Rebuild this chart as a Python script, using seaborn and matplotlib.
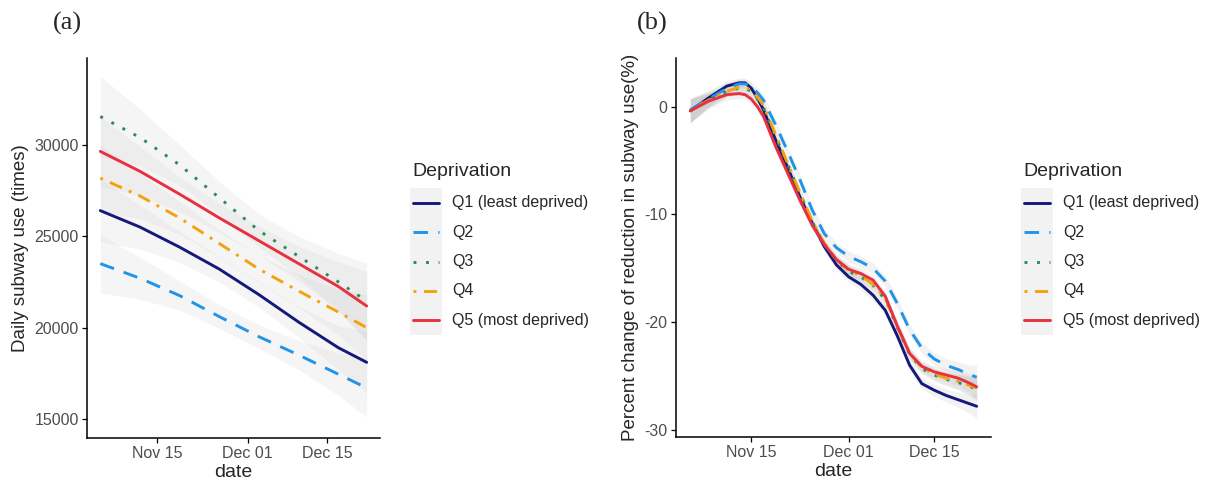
import pandas as pd
import numpy as np
import matplotlib
matplotlib.use('Agg')
import matplotlib.pyplot as plt
import matplotlib.dates as mdates
from matplotlib.lines import Line2D
from matplotlib.patches import Rectangle
import seaborn as sns

W, H = 1213, 483

groups = ['Q1', 'Q2', 'Q3', 'Q4', 'Q5']
group_labels = ['Q1 (least deprived)', 'Q2', 'Q3', 'Q4', 'Q5 (most deprived)']
colors = {'Q1': '#14197a', 'Q2': '#1f94ea', 'Q3': '#2e8b57', 'Q4': '#f2a20c', 'Q5': '#e8303f'}
dashes = {'Q1': '', 'Q2': (5.0, 3.5), 'Q3': (1.0, 3.3), 'Q4': (1.0, 2.6, 4.5, 2.6), 'Q5': ''}

# panel (a): daily subway use
dates_a = ['2020-11-05', '2020-11-12', '2020-11-19', '2020-11-26',
           '2020-12-03', '2020-12-10', '2020-12-17', '2020-12-22']
use_q1 = [26400, 25500, 24400, 23200, 21800, 20300, 18900, 18100]
use_q2 = [23500, 22700, 21750, 20600, 19500, 18500, 17450, 16700]
use_q3 = [31550, 30400, 28900, 27100, 25300, 23900, 22500, 21450]
use_q4 = [28180, 27200, 26000, 24600, 23200, 22000, 20850, 20000]
use_q5 = [29640, 28550, 27300, 26000, 24750, 23500, 22250, 21180]
band_q1 = [1700, 1200, 850, 700, 700, 850, 1200, 1700]
band_q2 = [1600, 1150, 800, 650, 650, 800, 1150, 1600]
band_q3 = [2200, 1550, 1100, 900, 900, 1100, 1550, 2100]
band_q4 = [1800, 1250, 900, 750, 750, 900, 1250, 1800]
band_q5 = [1900, 1350, 950, 800, 800, 950, 1350, 1900]

# panel (b): percent change
dates_b = ['2020-11-05', '2020-11-08', '2020-11-11', '2020-11-13', '2020-11-14',
           '2020-11-15', '2020-11-16', '2020-11-17', '2020-11-19', '2020-11-21',
           '2020-11-23', '2020-11-25', '2020-11-27', '2020-11-29', '2020-12-01',
           '2020-12-03', '2020-12-05', '2020-12-07', '2020-12-09', '2020-12-11',
           '2020-12-13', '2020-12-15', '2020-12-17', '2020-12-19', '2020-12-21',
           '2020-12-22']
pct_q1 = [-0.4, 0.8, 1.9, 2.2, 2.2, 1.7, 0.8, -0.3, -3.1, -5.7, -8.4, -10.8, -13.0,
          -14.7, -15.8, -16.5, -17.5, -18.9, -21.3, -24.0, -25.7, -26.3, -26.8, -27.2,
          -27.6, -27.8]
pct_q2 = [-0.3, 0.7, 1.7, 2.1, 2.1, 1.9, 1.3, 0.6, -1.7, -4.2, -6.8, -9.6, -11.8,
          -13.1, -13.9, -14.4, -15.0, -16.2, -18.3, -20.7, -22.4, -23.4, -24.0, -24.4,
          -24.9, -25.1]
pct_q3 = [-0.4, 0.6, 1.4, 1.7, 1.7, 1.4, 0.7, -0.1, -2.8, -5.4, -8.1, -10.7, -12.8,
          -14.3, -15.3, -15.8, -16.6, -17.9, -20.5, -23.0, -24.3, -24.9, -25.3, -25.6,
          -26.0, -26.2]
pct_q4 = [-0.4, 0.6, 1.4, 1.8, 1.8, 1.5, 0.9, 0.1, -2.6, -5.3, -8.0, -10.6, -12.7,
          -14.2, -15.2, -15.7, -16.5, -17.8, -20.4, -22.9, -24.2, -24.8, -25.2, -25.5,
          -25.9, -26.1]
pct_q5 = [-0.4, 0.5, 1.1, 1.2, 1.1, 0.7, 0.0, -0.9, -3.7, -6.2, -8.7, -11.0, -12.8,
          -14.2, -15.1, -15.5, -16.1, -17.6, -20.4, -22.9, -24.1, -24.6, -24.9, -25.2,
          -25.7, -26.0]
band_b = [1.1, 0.7, 0.5, 0.45, 0.45, 0.45, 0.45, 0.45, 0.45, 0.45, 0.45, 0.45, 0.45,
          0.45, 0.5, 0.5, 0.5, 0.5, 0.5, 0.5, 0.5, 0.55, 0.6, 0.7, 0.9, 1.1]


def long_frame(dates, series, bands):
    rows = []
    for g, vals, bw in zip(groups, series, bands):
        for d, v, b in zip(dates, vals, bw):
            rows.append({'date': pd.Timestamp(d), 'value': v, 'lo': v - b, 'hi': v + b, 'group': g})
    return pd.DataFrame(rows)


df_a = long_frame(dates_a, [use_q1, use_q2, use_q3, use_q4, use_q5],
                  [band_q1, band_q2, band_q3, band_q4, band_q5])
df_b = long_frame(dates_b, [pct_q1, pct_q2, pct_q3, pct_q4, pct_q5], [band_b] * 5)

sns.set_theme(style='ticks')
plt.rcParams['font.family'] = ['Liberation Sans', 'DejaVu Sans']
plt.rcParams['axes.unicode_minus'] = False

fig = plt.figure(figsize=(W / 100, H / 100), dpi=100)


def px_axes(x0, y0, x1, y1):
    return fig.add_axes([x0 / W, 1 - y1 / H, (x1 - x0) / W, (y1 - y0) / H])


def draw_panel(ax, df, band_color, band_alpha, ylim, yticks, ylabel):
    for g in groups:
        sub = df[df['group'] == g]
        ax.fill_between(sub['date'], sub['lo'], sub['hi'], color=band_color,
                        alpha=band_alpha, linewidth=0)
    sns.lineplot(data=df, x='date', y='value', hue='group', style='group',
                 palette=colors, dashes=dashes, linewidth=2.1, errorbar=None,
                 legend=False, ax=ax)
    pad = pd.Timedelta(days=2.35)
    ax.set_xlim(pd.Timestamp('2020-11-05') - pad, pd.Timestamp('2020-12-22') + pad)
    ax.set_ylim(*ylim)
    ax.set_yticks(yticks)
    ax.xaxis.set_major_formatter(mdates.DateFormatter('%b %d'))
    ax.set_xticks([pd.Timestamp('2020-11-15'), pd.Timestamp('2020-12-01'), pd.Timestamp('2020-12-15')])
    ax.tick_params(axis='both', length=3.5, width=0.9, color='black',
                   labelsize=11.5, labelcolor='#4d4d4d', pad=2.5)
    for s in ['top', 'right']:
        ax.spines[s].set_visible(False)
    for s in ['left', 'bottom']:
        ax.spines[s].set_linewidth(1.1)
        ax.spines[s].set_color('black')
    ax.set_xlabel('date', fontsize=14, labelpad=2)
    ax.set_ylabel(ylabel, fontsize=13.5, labelpad=4)


def draw_legend(x0, y_top):
    fig.text(x0 / W, 1 - y_top / H, 'Deprivation', fontsize=14, va='center', ha='left')
    step = 29.3
    first = y_top + 31
    fig.add_artist(Rectangle(((x0 - 2) / W, 1 - (first + 4 * step + step / 2) / H),
                             32 / W, 5 * step / H, transform=fig.transFigure,
                             facecolor='#f2f2f2', edgecolor='none'))
    for i, (g, lab) in enumerate(zip(groups, group_labels)):
        y = 1 - (first + i * step) / H
        ln = Line2D([(x0 + 1) / W, (x0 + 27) / W], [y, y], transform=fig.transFigure,
                    color=colors[g], linewidth=2.1)
        if dashes[g]:
            ln.set_dashes(dashes[g])
        fig.add_artist(ln)
        fig.text((x0 + 40) / W, y, lab, fontsize=11.5, va='center', ha='left')


ax_a = px_axes(87, 58, 380, 438)
draw_panel(ax_a, df_a, '#b8b8b8', 0.13, (13960, 34750), [15000, 20000, 25000, 30000],
           'Daily subway use (times)')
ax_b = px_axes(676, 58, 991, 437)
draw_panel(ax_b, df_b, '#b0b0b0', 0.16, (-30.65, 4.5), [-30, -20, -10, 0],
           'Percent change of reduction in subway use(%)')

draw_legend(412, 172)
draw_legend(1023, 172)

fig.text(67 / W, 1 - 23 / H, '(a)', fontsize=19, ha='center', va='center',
         family=['Liberation Serif', 'DejaVu Serif'])
fig.text(652 / W, 1 - 23 / H, '(b)', fontsize=19, ha='center', va='center',
         family=['Liberation Serif', 'DejaVu Serif'])

fig.savefig('out.png', dpi=100)
